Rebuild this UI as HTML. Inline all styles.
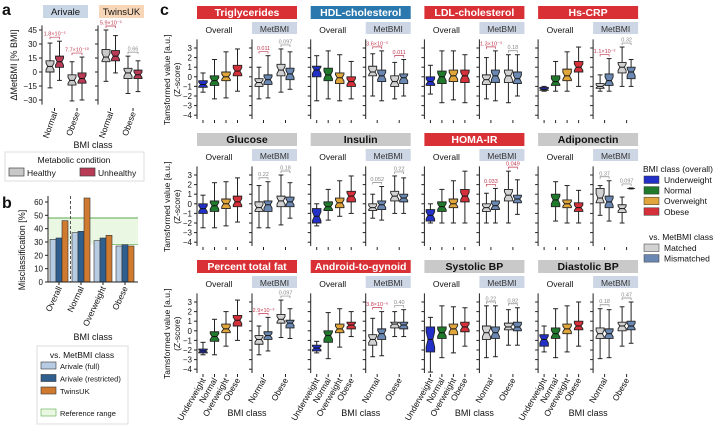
<!DOCTYPE html>
<html><head><meta charset="utf-8"><style>
body{margin:0;background:#fff;}
svg{display:block;font-family:"Liberation Sans",sans-serif;}
</style></head><body>
<svg id="fig" width="722" height="426" viewBox="0 0 722 426"></svg>
<script>
// ---------- DATA ----------
const aCohorts = ["Arivale","TwinsUK"];
const aArivale = [[-17,0,6,12,31],[-9,5,11,17,33],[-31,-14,-9,-3,11],[-30,-12,-7,-1,16]];
const aTwins = [[-10,11,16,24,45],[-1,12,17,23,39],[-23,-7,-1,4,17],[-21,-7,-3,2,12]];
const aPvals = [["1.8×10⁻⁵","7.7×10⁻¹⁰"],["5.9×10⁻²","0.66"]];
const aTicks = [45,30,15,0,-15,-30];
const bCats = ["Overall","Normal","Overweight","Obese"];
const bFull = [32,37,31,27];
const bRestricted = [33,38,33,28];
const bTwins = [46,63,35,27];
const bTicks = [0,10,20,30,40,50,60];
const bRefRange = [28,48];
const cMetrics = ["Triglycerides","HDL-cholesterol","LDL-cholesterol","Hs-CRP","Glucose","Insulin","HOMA-IR","Adiponectin","Percent total fat","Android-to-gynoid","Systolic BP","Diastolic BP"];
const cSignif = ["red","blue","red","red","gray","gray","red","gray","red","red","gray","gray"];
const cOverall = [
 [[-1.6,-1.1,-0.8,-0.4,0.4],[-2.3,-0.9,-0.4,0.1,1.8],[-2.2,-0.4,0,0.5,2.6],[-1.5,0.1,0.6,1.2,2.9]],
 [[-2.5,0.0,0.7,1.1,2.2],[-2.3,-0.4,0.2,0.9,2.7],[-2.5,-0.7,-0.1,0.4,2.3],[-2.3,-1.0,-0.5,0,1.6]],
 [[-1.8,-0.9,-0.5,0,1.2],[-2.7,-0.7,0,0.6,2.7],[-2.4,-0.5,0.1,0.7,2.7],[-2.7,-0.6,0.1,0.7,2.3]],
 [[-1.5,-1.4,-1.3,-1.1,-1.0],[-1.5,-0.9,-0.5,0.1,1.6],[-1.5,-0.4,0.1,0.8,2.6],[-1,0.5,1,1.6,3.1]],
 [[-2.5,-1.0,-0.5,0,0.9],[-2.5,-0.8,-0.2,0.3,2.2],[-2.3,-0.5,0,0.5,2.3],[-1.9,-0.3,0.2,0.8,2.7]],
 [[-2.3,-2,-1.3,-0.5,0],[-1.7,-0.7,-0.3,0.2,1.5],[-1.3,-0.4,0.1,0.6,2.4],[-1,0.2,0.8,1.3,2.9]],
 [[-2,-1.8,-1.2,-0.6,0],[-2,-0.8,-0.3,0.2,1.5],[-2,-0.4,0,0.5,2.4],[-2,0.2,0.8,1.5,3.4]],
 [null,[-1.8,-0.3,0.4,1.0,2.3],[-2,-0.4,0,0.4,1.9],[-2,-0.8,-0.4,0.1,1.4]],
 [[-2.5,-2.3,-2.1,-1.9,-1.2],[-2.5,-1.1,-0.6,-0.1,1.2],[-1.6,-0.2,0.2,0.7,2.0],[-1,0.5,1.1,1.6,3.2]],
 [[-2.3,-2.1,-1.8,-1.5,-1.1],[-2.9,-1.2,-0.5,0,1.9],[-1.7,-0.2,0.2,0.7,2.3],[-0.6,0.2,0.6,0.9,2.0]],
 [[-4.3,-2.2,-0.9,0.4,1.4],[-2.8,-0.8,-0.2,0.4,2.6],[-2.3,-0.4,0.2,0.7,2.5],[-1.6,-0.1,0.4,0.9,2.4]],
 [[-2.2,-1.6,-0.9,-0.4,0.5],[-2.8,-0.8,-0.3,0.3,2.3],[-2.2,-0.3,0.2,0.7,2.6],[-1.6,0.1,0.5,1.0,3.0]]
];
const cMet = [
 [[-2.3,-1,-0.6,-0.2,1.0],[-2.2,-0.8,-0.3,0.2,2.2],[-1.6,0.1,0.7,1.3,2.9],[-1.3,-0.3,0.3,0.9,2.6]],
 [[-2,0.1,0.5,1.1,2.4],[-2.5,-0.5,0.1,0.7,2.7],[-2.3,-1.0,-0.5,0.1,1.5],[-2,-0.7,-0.1,0.3,1.8]],
 [[-2.3,-0.8,-0.3,0.2,2.0],[-2.5,-0.6,0.1,0.7,2.7],[-2.7,-0.6,0.1,0.7,2.3],[-2,-0.7,-0.2,0.5,2.3]],
 [[-1.5,-1.2,-1.0,-0.7,0.2],[-1.5,-0.9,-0.4,0.3,1.9],[-1,0.4,1.0,1.5,3.1],[-1,-0.2,0.5,1.0,1.8]],
 [[-2.5,-0.8,-0.4,0.2,1.9],[-2.5,-0.8,-0.1,0.3,2.3],[-2.2,-0.3,0.3,0.8,3.0],[-1.5,-0.3,0.2,0.7,2.2]],
 [[-1.5,-0.7,-0.4,0,1.0],[-1.7,-0.6,-0.1,0.3,1.8],[-1,0.3,0.8,1.3,2.9],[-1,0.2,0.6,1.0,2.7]],
 [[-2,-0.8,-0.4,0,1.1],[-2,-0.6,-0.2,0.3,1.6],[-2,0.3,0.9,1.5,3.4],[-1.1,0.1,0.5,0.9,2.5]],
 [[-1.2,0.1,0.6,1.6,1.9],[-1.8,-0.4,0.2,0.8,2.4],[-2,-0.9,-0.5,-0.1,0.7],[1.55,1.6,1.6,1.6,1.65]],
 [[-2.5,-1.4,-0.9,-0.5,0.5],[-2.1,-0.9,-0.5,-0.1,1.4],[-0.7,0.8,1.2,1.7,3.2],[-0.8,0.3,0.8,1.1,2.3]],
 [[-2.7,-1.5,-0.9,-0.4,1.3],[-2.6,-0.9,-0.3,0.2,2.0],[-0.6,0.3,0.7,0.9,2.0],[-0.6,0.2,0.6,0.9,2.2]],
 [[-2.8,-0.9,-0.2,0.5,2.6],[-2.7,-0.8,-0.2,0.4,2.6],[-1.5,0.1,0.4,0.8,2.2],[-1.5,0.0,0.4,0.9,2.4]],
 [[-2.9,-0.8,-0.3,0.3,2.3],[-2.8,-0.8,-0.3,0.2,2.2],[-1.6,0.0,0.5,0.9,2.5],[-1.3,0.1,0.5,1,3.0]]
];
const cPNormal = ["0.011","3.6×10⁻⁵","1.3×10⁻³","1.1×10⁻²","0.22","0.052","0.033","0.37","2.9×10⁻³","3.8×10⁻⁶","0.22","0.18"];
const cPObese = ["0.097","0.011","0.18","0.32","0.18","0.22","0.049","0.097","0.097","0.40","0.82","0.47"];
const cPNormalSig = [1,1,1,1,0,0,1,0,1,1,0,0];
const cPObeseSig = [0,1,0,0,0,0,1,0,0,0,0,0];
const cTicks = [3,2,1,0,-1,-2,-3,-4];
const bmiClasses = ["Underweight","Normal","Overweight","Obese"];

// ---------- HELPERS ----------
const NS = "http://www.w3.org/2000/svg";
const svg = document.getElementById("fig");
function mk(tag, attrs, parent){
  const e = document.createElementNS(NS, tag);
  for (const k in attrs) e.setAttribute(k, attrs[k]);
  (parent || svg).appendChild(e);
  return e;
}
function txt(x,y,s,size,opts,parent){
  const o = Object.assign({x:x,y:y,"font-size":size,fill:"#111"},opts||{});
  const e = mk("text",o,parent); e.textContent = s; return e;
}
function boxplot(g, cx, w, st, yf, fill){
  if(!st) return;
  const [lo,q1,md,q3,hi] = st;
  const l = cx-w/2, r = cx+w/2, ind = w*0.22;
  const nh = Math.min(0.3*(q3-q1), (q3-q1)/2);
  const yU = yf(md+nh), yL = yf(md-nh), yM = yf(md);
  mk("line",{x1:cx,x2:cx,y1:yf(q3),y2:yf(hi),stroke:"#222","stroke-width":1},g);
  mk("line",{x1:cx,x2:cx,y1:yf(q1),y2:yf(lo),stroke:"#222","stroke-width":1},g);
  mk("line",{x1:cx-w*0.3,x2:cx+w*0.3,y1:yf(hi),y2:yf(hi),stroke:"#222","stroke-width":1},g);
  mk("line",{x1:cx-w*0.3,x2:cx+w*0.3,y1:yf(lo),y2:yf(lo),stroke:"#222","stroke-width":1},g);
  const pts = [[l,yf(q3)],[r,yf(q3)],[r,yU],[r-ind,yM],[r,yL],[r,yf(q1)],[l,yf(q1)],[l,yL],[l+ind,yM],[l,yU]].map(p=>p.join(",")).join(" ");
  mk("polygon",{points:pts,fill:fill,stroke:"#222","stroke-width":0.9},g);
  mk("line",{x1:l+ind,x2:r-ind,y1:yM,y2:yM,stroke:"#111","stroke-width":1},g);
}
function bracket(g,x1,x2,y,label,sig){
  const c = sig ? "#c0394f" : "#888";
  mk("path",{d:`M${x1},${y+2}V${y}H${x2}V${y+2}`,fill:"none",stroke:c,"stroke-width":0.7},g);
  txt((x1+x2)/2,y-1.5,label,5.5,{fill:c,"text-anchor":"middle"},g);
}

// ---------- PANEL LETTERS ----------
let t;
t = txt(2,15,"a",16,{"font-weight":"bold"});  
t = txt(2,208,"b",16,{"font-weight":"bold"});  
t = txt(160,15,"c",16,{"font-weight":"bold"});  

// ---------- PANEL A ----------
const yA = v => 72 - v*14/15;
const aColors = ["#c8c8c8","#b83a55"];
const aSpines = [42,98];
const aHeadFill = ["#c8d6e6","#f7d6b8"];
const aData = [aArivale,aTwins];
const gA = mk("g",{});


aCohorts.forEach((name,ci)=>{
  const x0 = aSpines[ci];
  const hb = mk("rect",{x:x0+1,y:5,width:45,height:13,fill:aHeadFill[ci]},gA);
  
  
  txt(x0+23.5,15,name,9.5,{"text-anchor":"middle"},gA);
  mk("line",{x1:x0,x2:x0,y1:yA(50),y2:yA(-35),stroke:"#222","stroke-width":1},gA);
  aTicks.forEach(v=>{
    mk("line",{x1:x0-3,x2:x0,y1:yA(v),y2:yA(v),stroke:"#222"},gA);
    if(ci===0) txt(x0-5,yA(v)+3,String(v).replace("-","−"),8,{"text-anchor":"end"},gA);
  });
  const cxs = [x0+8,x0+17.5,x0+30,x0+40];
  aData[ci].forEach((st,i)=>{
    const g = mk("g",{},gA);
    
    
    boxplot(g,cxs[i],8,st,yA,aColors[i%2]);
  });
  const ticksX = [x0+12.5,x0+35];
  ["Normal","Obese"].forEach((lab,i)=>{
    mk("line",{x1:ticksX[i],x2:ticksX[i],y1:108,y2:111,stroke:"#222"},gA);
    txt(ticksX[i]+3,113,lab,8.5,{"text-anchor":"end",transform:`rotate(-70 ${ticksX[i]+3} 113)`},gA);
  });
  const topN = Math.max(aData[ci][0][4],aData[ci][1][4]);
  const topO = Math.max(aData[ci][2][4],aData[ci][3][4]);
  bracket(gA,cxs[0],cxs[1],yA(topN)-4,aPvals[ci][0],true);
  bracket(gA,cxs[2],cxs[3],yA(topO)-4,aPvals[ci][1],ci===0);
});
t = txt(17,65,"ΔMetBMI [% BMI]",9,{"text-anchor":"middle",transform:"rotate(-90 17 65)"},gA);
 
t = txt(93,148,"BMI class",9,{"text-anchor":"middle"},gA);
 
const legA = mk("g",{},gA);


mk("rect",{x:5,y:152,width:139,height:29,fill:"#fff",stroke:"#ddd"},legA);
txt(74,163,"Metabolic condition",8.5,{"text-anchor":"middle"},legA);
mk("rect",{x:9,y:168,width:15,height:8,fill:aColors[0],stroke:"#444","stroke-width":0.7},legA);
txt(27,176,"Healthy",8.5,{},legA);
mk("rect",{x:80,y:168,width:15,height:8,fill:aColors[1],stroke:"#444","stroke-width":0.7},legA);
txt(98,176,"Unhealthy",8.5,{},legA);

// ---------- PANEL B ----------
const yB = v => 282 - v*80/60;
const gB = mk("g",{});


const ref = mk("rect",{x:48,y:yB(bRefRange[1]),width:90,height:yB(bRefRange[0])-yB(bRefRange[1]),fill:"#eaf7e3"},gB);


mk("line",{x1:48,x2:138,y1:yB(bRefRange[1]),y2:yB(bRefRange[1]),stroke:"#5aaa4a","stroke-width":1},gB);
mk("line",{x1:112,x2:138,y1:yB(bRefRange[0]),y2:yB(bRefRange[0]),stroke:"#5aaa4a","stroke-width":0.7},gB);
const bColors = ["#b7cbe3","#2f5f8f","#d07a30"];
const bSeries = [bFull,bRestricted,bTwins];
const bNames = ["arivale-full","arivale-restricted","twinsuk"];
bCats.forEach((cat,i)=>{
  const gx = 50 + i*22;
  bSeries.forEach((ser,s)=>{
    const r = mk("rect",{x:gx+s*6,y:yB(ser[i]),width:6,height:yB(0)-yB(ser[i]),fill:bColors[s],stroke:"#333","stroke-width":0.6},gB);
    
    
  });
  const tx = gx+9;
  mk("line",{x1:tx,x2:tx,y1:282,y2:285,stroke:"#222"},gB);
  txt(tx+3,288,cat,8.5,{"text-anchor":"end",transform:`rotate(-65 ${tx+3} 288)`},gB);
});
mk("line",{x1:70.5,x2:70.5,y1:196,y2:282,stroke:"#555","stroke-width":1,"stroke-dasharray":"3,2"},gB);
mk("line",{x1:48,x2:48,y1:196,y2:282,stroke:"#222"},gB);
mk("line",{x1:48,x2:138,y1:282,y2:282,stroke:"#222"},gB);
bTicks.forEach(v=>{
  mk("line",{x1:45,x2:48,y1:yB(v),y2:yB(v),stroke:"#222"},gB);
  txt(43,yB(v)+3,String(v),8,{"text-anchor":"end"},gB);
});
t = txt(25,250,"Misclassification [%]",9,{"text-anchor":"middle",transform:"rotate(-90 25 250)"},gB);
 
t = txt(93,340,"BMI class",9,{"text-anchor":"middle"},gB);
 
const legB = mk("g",{},gB);


mk("rect",{x:37,y:346,width:91,height:78,fill:"#fff",stroke:"#ddd"},legB);
txt(82,358,"vs. MetBMI class",8.5,{"text-anchor":"middle"},legB);
["Arivale (full)","Arivale (restricted)","TwinsUK"].forEach((n,i)=>{
  mk("rect",{x:41,y:362+i*12.5,width:15,height:7,fill:bColors[i],stroke:"#333","stroke-width":0.6},legB);
  txt(60,369+i*12.5,n,7.5,{},legB);
});
mk("rect",{x:41,y:409,width:15,height:7,fill:"#eaf7e3",stroke:"#5aaa4a","stroke-width":0.6},legB);
txt(60,416,"Reference range",7.5,{},legB);

// ---------- PANEL C ----------
const uColors = ["#2230c8","#1f7a2c","#e0a63c","#d6303a"];
const mColors = ["#d2d2d2","#6b88b3"];
const titleFill = {red:"#d93035",blue:"#2a78ae",gray:"#c9c9c9"};
cMetrics.forEach((name,m)=>{
  const r = Math.floor(m/4), c = m%4;
  const x0 = 197 + c*113.7;
  const yf = v => 48 + r*127 + (3-v)*9.6;
  const g = mk("g",{});
  
  
  const tb = mk("rect",{x:x0,y:6+r*127,width:100,height:13,fill:titleFill[cSignif[m]]},g);
  
  
  txt(x0+50,16+r*127,name,10.5,{"text-anchor":"middle","font-weight":"bold",fill:cSignif[m]==="gray"?"#111":"#fff"},g);
  txt(x0+22,33+r*127,"Overall",8.5,{"text-anchor":"middle"},g);
  mk("rect",{x:x0+55,y:22+r*127,width:45,height:12,fill:"#cdd6e4"},g);
  txt(x0+77.5,32+r*127,"MetBMI",8.5,{"text-anchor":"middle",fill:"#333"},g);
  [x0, x0+55].forEach(sx=>{
    mk("line",{x1:sx,x2:sx,y1:yf(3.9),y2:yf(-4.4),stroke:"#222"},g);
    cTicks.forEach(v=>mk("line",{x1:sx-3,x2:sx,y1:yf(v),y2:yf(v),stroke:"#222"},g));
  });
  if(c===0){
    cTicks.forEach(v=>txt(x0-5,yf(v)+3,String(v).replace("-","−"),8,{"text-anchor":"end"},g));
    const cy = yf(-0.3);
    txt(170,cy,"Tamsformed value [a.u.]",8.5,{"text-anchor":"middle",transform:`rotate(-90 170 ${cy})`},g);
    txt(180,cy,"(Z-score)",8.5,{"text-anchor":"middle",transform:`rotate(-90 180 ${cy})`},g);
  }
  const by = yf(-4.4)+1;
  cOverall[m].forEach((st,i)=>{
    const cx = x0+6+11.5*i;
    const bg = mk("g",{},g);
    
    
    boxplot(bg,cx,8.5,st,yf,uColors[i]);
    mk("line",{x1:cx,x2:cx,y1:by,y2:by+3,stroke:"#222"},g);
    if(r===2) txt(cx+3,by+6,bmiClasses[i],8.5,{"text-anchor":"end",transform:`rotate(-60 ${cx+3} ${by+6})`},g);
  });
  const mx = [x0+62,x0+71,x0+84,x0+93];
  cMet[m].forEach((st,i)=>{
    const bg = mk("g",{},g);
    
    
    boxplot(bg,mx[i],8,st,yf,mColors[i%2]);
  });
  [["Normal",x0+66.5],["Obese",x0+88.5]].forEach(([lab,tx])=>{
    mk("line",{x1:tx,x2:tx,y1:by,y2:by+3,stroke:"#222"},g);
    if(r===2) txt(tx+3,by+6,lab,8.5,{"text-anchor":"end",transform:`rotate(-60 ${tx+3} ${by+6})`},g);
  });
  const tN = Math.max(cMet[m][0][4],cMet[m][1][4]);
  const tO = Math.max(cMet[m][2][4],cMet[m][3][4]);
  bracket(g,mx[0],mx[1],yf(tN)-4,cPNormal[m],cPNormalSig[m]);
  bracket(g,mx[2],mx[3],yf(tO)-4,cPObese[m],cPObeseSig[m]);
  if(r===2){
    const xt = txt(x0+50,416,"BMI class",9,{"text-anchor":"middle"},g);
    
    
  }
});
const legC = mk("g",{});


txt(643,172,"BMI class (overall)",8.5,{},legC);
bmiClasses.forEach((n,i)=>{
  mk("rect",{x:644,y:176+i*10.6,width:15,height:7.5,fill:uColors[i],stroke:"#333","stroke-width":0.5},legC);
  txt(664,183+i*10.6,n,8.5,{},legC);
});
txt(649,240,"vs. MetBMI class",8.5,{},legC);
["Matched","Mismatched"].forEach((n,i)=>{
  mk("rect",{x:644,y:244+i*10.6,width:15,height:7.5,fill:mColors[i],stroke:"#333","stroke-width":0.5},legC);
  txt(664,251+i*10.6,n,8.5,{},legC);
});
</script>
</body></html>
